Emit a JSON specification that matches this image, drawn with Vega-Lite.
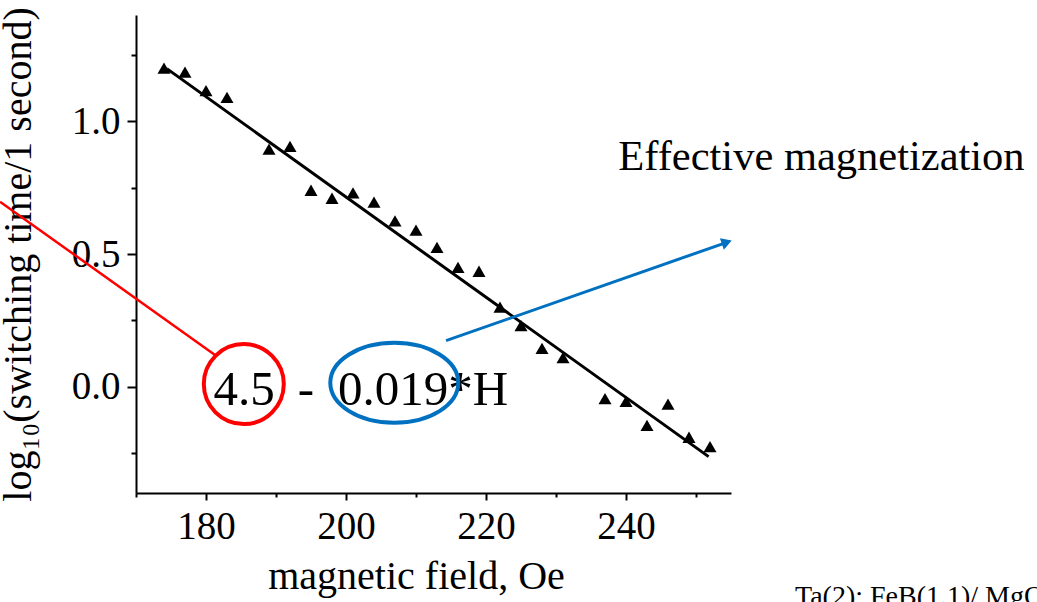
{
  "$schema": "https://vega.github.io/schema/vega-lite/v6.json",
  "width": 595,
  "height": 478,
  "autosize": {"type": "none"},
  "padding": {"left": 136, "top": 15, "right": 306, "bottom": 109},
  "background": "white",
  "config": {"view": {"stroke": null}, "font": "Liberation Serif"},
  "datasets": {
    "points": [
      {"H": 174, "y": 1.2},
      {"H": 177, "y": 1.185},
      {"H": 180, "y": 1.115},
      {"H": 183, "y": 1.09},
      {"H": 189, "y": 0.895},
      {"H": 192, "y": 0.905},
      {"H": 195, "y": 0.74},
      {"H": 198, "y": 0.71},
      {"H": 201, "y": 0.73},
      {"H": 204, "y": 0.695},
      {"H": 207, "y": 0.625},
      {"H": 210, "y": 0.59},
      {"H": 213, "y": 0.525},
      {"H": 216, "y": 0.45},
      {"H": 219, "y": 0.435},
      {"H": 222, "y": 0.3},
      {"H": 225, "y": 0.23},
      {"H": 228, "y": 0.145},
      {"H": 231, "y": 0.11},
      {"H": 237, "y": -0.045},
      {"H": 240, "y": -0.055},
      {"H": 243, "y": -0.145},
      {"H": 246, "y": -0.065},
      {"H": 249, "y": -0.19},
      {"H": 252, "y": -0.225}
    ],
    "fit": [
      {"H": 174.4, "y": 1.198},
      {"H": 251.8, "y": -0.263}
    ],
    "redline": [
      {"H": 150.57, "y": 0.697},
      {"H": 181.29, "y": 0.1197}
    ],
    "arrowline": [
      {"H": 214.29, "y": 0.1736},
      {"H": 254.4, "y": 0.544}
    ],
    "arrowhead": [
      {"H": 254.4, "y": 0.544}
    ],
    "redcircle": [
      {"H": 185.4, "y": 0.01}
    ],
    "blueellipse": [
      {"H": 206.9, "y": 0.015}
    ],
    "equation": [
      {"H": 185.43, "y": -0.069, "label": "4.5"},
      {"H": 194.29, "y": -0.069, "label": "-"},
      {"H": 211.0, "y": -0.069, "label": "0.019*H"}
    ],
    "effective": [
      {"H": 238.9, "y": 0.816, "label": "Effective magnetization"}
    ],
    "footer": [
      {"H": 264.14, "y": -0.8215, "label": "Ta(2); FeB(1.1)/ MgO"}
    ]
  },
  "encoding": {
    "x": {
      "field": "H",
      "type": "quantitative",
      "scale": {"domain": [170, 255], "nice": false, "zero": false},
      "axis": {
        "values": [170, 180, 190, 200, 210, 220, 230, 240, 250],
        "labelExpr": "datum.value % 20 === 0 ? datum.label : ''",
        "grid": false,
        "domainColor": "black",
        "domainWidth": 2,
        "tickColor": "black",
        "tickWidth": 2,
        "tickSize": {"condition": {"test": "datum.value % 20 === 0", "value": 7}, "value": 4},
        "labelFont": "Liberation Serif",
        "labelFontSize": 39,
        "labelColor": "black",
        "labelPadding": 7,
        "labelFlush": false,
        "labelOverlap": false,
        "title": "magnetic field, Oe",
        "titleFont": "Liberation Serif",
        "titleFontSize": 40,
        "titleFontWeight": "normal",
        "titleColor": "black",
        "titleX": 280,
        "titleY": 95,
        "titleAlign": "center",
        "titleBaseline": "alphabetic",
        "titleAngle": 0
      }
    },
    "y": {
      "field": "y",
      "type": "quantitative",
      "scale": {"domain": [-0.4, 1.4], "nice": false, "zero": false},
      "axis": {
        "values": [-0.25, 0, 0.25, 0.5, 0.75, 1, 1.25],
        "labelExpr": "datum.value % 0.5 === 0 ? format(datum.value, '.1f') : ''",
        "grid": false,
        "domainColor": "black",
        "domainWidth": 2,
        "tickColor": "black",
        "tickWidth": 2,
        "tickSize": {"condition": {"test": "datum.value % 0.5 === 0", "value": 9}, "value": 5},
        "labelFont": "Liberation Serif",
        "labelFontSize": 39,
        "labelColor": "black",
        "labelPadding": 7,
        "labelFlush": false,
        "labelOverlap": false,
        "title": "log₁₀(switching time/1 second)",
        "titleFont": "Liberation Serif",
        "titleFontSize": 40,
        "titleFontWeight": "normal",
        "titleColor": "black",
        "titleX": -106,
        "titleY": 239,
        "titleAngle": 270,
        "titleAlign": "center",
        "titleBaseline": "alphabetic"
      }
    }
  },
  "layer": [
    {
      "data": {"name": "points"},
      "mark": {"type": "point", "shape": "triangle-up", "filled": true, "color": "black", "size": 170, "opacity": 1}
    },
    {
      "data": {"name": "fit"},
      "mark": {"type": "line", "color": "black", "strokeWidth": 3}
    },
    {
      "data": {"name": "redline"},
      "mark": {"type": "line", "color": "#FF0000", "strokeWidth": 2.5}
    },
    {
      "data": {"name": "arrowline"},
      "mark": {"type": "line", "color": "#0070C0", "strokeWidth": 3}
    },
    {
      "data": {"name": "arrowhead"},
      "mark": {"type": "point", "shape": "triangle-right", "filled": true, "color": "#0070C0", "size": 144, "angle": 340.7, "opacity": 1}
    },
    {
      "data": {"name": "equation"},
      "mark": {"type": "text", "font": "Liberation Serif", "fontSize": 49, "align": "center", "baseline": "alphabetic", "color": "black"},
      "encoding": {"text": {"field": "label", "type": "nominal"}}
    },
    {
      "data": {"name": "redcircle"},
      "mark": {"type": "point", "shape": "circle", "filled": false, "color": "#FF0000", "strokeWidth": 4, "size": 6400, "opacity": 1}
    },
    {
      "data": {"name": "blueellipse"},
      "mark": {"type": "point", "shape": "M1.6,0 C1.6,0.5523 0.8837,1 0,1 C-0.8837,1 -1.6,0.5523 -1.6,0 C-1.6,-0.5523 -0.8837,-1 0,-1 C0.8837,-1 1.6,-0.5523 1.6,0 Z", "filled": false, "color": "#0070C0", "strokeWidth": 4, "size": 6400, "opacity": 1}
    },
    {
      "data": {"name": "effective"},
      "mark": {"type": "text", "font": "Liberation Serif", "fontSize": 42.5, "align": "left", "baseline": "alphabetic", "color": "black"},
      "encoding": {"text": {"field": "label", "type": "nominal"}}
    },
    {
      "data": {"name": "footer"},
      "mark": {"type": "text", "font": "Liberation Serif", "fontSize": 28, "align": "left", "baseline": "alphabetic", "color": "black"},
      "encoding": {"text": {"field": "label", "type": "nominal"}}
    }
  ]
}
